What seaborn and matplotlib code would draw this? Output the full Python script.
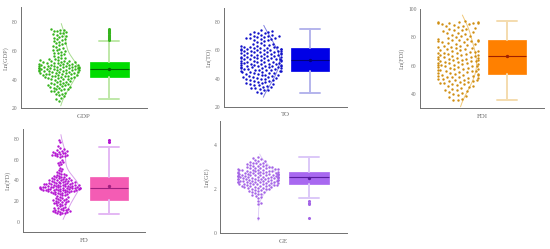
"""Five raincloud style panels: swarm + half density + box, one per indicator."""
import matplotlib
matplotlib.use("Agg")
import matplotlib.pyplot as plt
import numpy as np
import seaborn as sns

W, H = 550, 249

gdp = [25.4, 26.6, 27.3, 28.4, 29.1, 29.8, 30.2, 30.9, 31.3, 31.7, 32.2, 32.5, 33.1, 33.4, 33.6, 34.2, 34.4, 34.9,
       35.1, 35.3, 35.8, 36.0, 36.2, 36.7, 36.9, 37.1, 37.6, 37.8, 38.3, 38.6, 38.9, 39.2, 39.7, 40.1, 40.3, 40.4,
       40.8, 41.1, 41.2, 41.5, 41.6, 41.9, 42.2, 42.3, 42.6, 42.7, 43.0, 43.1, 43.3, 43.6, 43.7, 43.9, 44.1, 44.2,
       44.6, 44.7, 44.8, 45.0, 45.1, 45.4, 45.5, 45.7, 45.9, 46.0, 46.2, 46.3, 46.5, 46.6, 46.8, 46.9, 47.1, 47.2,
       47.3, 47.4, 47.6, 47.7, 47.9, 48.0, 48.1, 48.2, 48.3, 48.5, 48.6, 48.7, 48.8, 49.0, 49.1, 49.2, 49.4, 49.5,
       49.6, 49.8, 50.0, 50.1, 50.3, 50.4, 50.6, 50.9, 51.0, 51.2, 51.4, 51.5, 51.8, 52.0, 52.1, 52.3, 52.6, 52.9,
       53.1, 53.2, 53.6, 53.9, 54.3, 54.8, 55.2, 55.9, 56.5, 57.2, 57.8, 58.3, 58.7, 59.4, 59.9, 60.4, 60.8, 61.5,
       62.1, 62.6, 63.2, 63.7, 64.5, 65.0, 65.4, 66.1, 66.6, 67.3, 67.8, 68.2, 68.9, 69.5, 69.9, 70.4, 70.9, 71.5,
       72.0, 72.6, 73.0, 73.5, 73.9, 74.3, 74.7, 75.2]
to = [30.1, 30.8, 31.6, 32.0, 32.7, 33.1, 33.5, 34.0, 34.3, 34.9, 35.2, 35.6, 36.0, 36.2, 36.7, 37.1, 37.3, 37.8,
      38.1, 38.4, 38.8, 39.0, 39.5, 39.7, 40.0, 40.3, 40.5, 40.9, 41.1, 41.3, 41.8, 42.0, 42.3, 42.6, 42.9, 43.2,
      43.4, 43.7, 44.0, 44.1, 44.4, 44.7, 44.9, 45.1, 45.3, 45.6, 45.8, 46.0, 46.1, 46.4, 46.7, 46.8, 47.0, 47.3,
      47.4, 47.6, 47.9, 48.0, 48.2, 48.3, 48.6, 48.8, 49.0, 49.1, 49.3, 49.6, 49.7, 50.0, 50.1, 50.4, 50.6, 50.7,
      51.0, 51.2, 51.3, 51.6, 51.8, 52.0, 52.1, 52.3, 52.6, 52.7, 52.9, 53.1, 53.3, 53.6, 53.8, 54.0, 54.1, 54.3,
      54.6, 54.8, 55.0, 55.1, 55.4, 55.6, 55.7, 56.0, 56.2, 56.3, 56.6, 56.8, 57.0, 57.1, 57.4, 57.6, 57.7, 58.0,
      58.1, 58.3, 58.6, 58.7, 59.0, 59.1, 59.3, 59.5, 59.8, 59.9, 60.1, 60.3, 60.4, 60.6, 60.9, 61.0, 61.2, 61.3,
      61.6, 61.8, 62.0, 62.2, 62.3, 62.6, 62.8, 63.0, 63.3, 63.6, 63.9, 64.3, 64.8, 65.3, 66.0, 66.7, 67.2, 67.7,
      68.0, 68.3, 68.6, 68.9, 69.1, 69.4, 69.7, 70.0, 70.2, 70.5, 70.9, 71.3, 71.8, 72.2, 72.6, 73.0, 73.3, 73.9,
      74.5]
fdi = [35.6, 36.2, 36.9, 37.8, 38.6, 39.5, 40.1, 40.8, 41.3, 41.9, 42.6, 43.0, 43.8, 44.3, 44.9, 45.4, 45.7, 46.2,
       46.8, 47.1, 47.6, 47.9, 48.2, 48.7, 49.0, 49.3, 49.8, 50.0, 50.2, 50.7, 50.9, 51.2, 51.6, 51.8, 52.1, 52.4,
       52.6, 52.9, 53.3, 53.5, 53.8, 54.2, 54.4, 54.7, 55.1, 55.3, 55.6, 56.0, 56.2, 56.5, 56.9, 57.1, 57.4, 57.8,
       58.0, 58.3, 58.7, 58.9, 59.2, 59.5, 59.8, 60.0, 60.3, 60.6, 60.8, 61.1, 61.4, 61.6, 61.9, 62.2, 62.4, 62.7,
       63.0, 63.2, 63.5, 63.8, 64.0, 64.3, 64.6, 64.8, 65.1, 65.4, 65.6, 65.9, 66.2, 66.4, 66.7, 67.0, 67.3, 67.5,
       67.8, 68.1, 68.4, 68.7, 68.9, 69.2, 69.6, 69.9, 70.2, 70.5, 70.9, 71.2, 71.5, 71.9, 72.3, 72.6, 73.0, 73.4,
       73.8, 74.2, 74.7, 75.1, 75.6, 76.0, 76.4, 76.8, 77.1, 77.3, 77.6, 77.8, 78.0, 78.2, 78.5, 78.9, 79.6, 80.2,
       80.8, 81.3, 81.9, 82.4, 82.8, 83.3, 83.9, 84.4, 84.9, 85.3, 85.8, 86.2, 86.7, 87.4, 87.8, 88.3,
       88.8, 89.1, 89.5, 89.8, 90.0, 90.2, 90.4, 90.6, 90.8, 91.0, 91.2]
fd = [7.2, 7.9, 8.5, 8.8, 9.1, 9.4, 9.7, 10.0, 10.2, 10.5, 10.8,
      11.2, 11.6, 12.0, 12.3, 12.8, 13.3, 13.6, 14.1, 14.9, 15.6, 16.2, 16.8, 17.3, 17.7, 18.1,
      18.6, 19.0, 19.3, 19.7, 20.2, 20.5, 20.9, 21.3, 21.7, 22.0, 22.6, 23.1, 23.5, 24.2, 24.9, 25.4, 25.8, 26.3,
      26.7, 27.0, 27.4, 27.7, 28.0, 28.2, 28.5, 28.8, 29.0, 29.2, 29.4, 29.6, 29.8, 30.0, 30.1, 30.3, 30.4, 30.6,
      30.8, 30.9, 31.0, 31.2, 31.3, 31.5, 31.6, 31.8, 31.9, 32.0, 32.1, 32.2, 32.3, 32.5, 32.6, 32.7, 32.8, 33.0,
      33.1, 33.2, 33.4, 33.5, 33.6, 33.8, 33.9, 34.1, 34.2, 34.4, 34.6, 34.7, 34.9, 35.0, 35.2, 35.4, 35.5, 35.7,
      35.9, 36.1, 36.3, 36.4, 36.7, 36.9, 37.1, 37.3, 37.6, 37.8, 38.0, 38.2, 38.5, 38.7, 39.0, 39.2, 39.5, 39.8,
      40.0, 40.3, 40.6, 40.9, 41.1, 41.4, 41.7, 42.0, 42.3, 42.7, 43.0, 43.4, 43.9, 44.3, 44.8, 45.2, 45.7, 46.3,
      47.0, 47.8, 48.6, 49.5, 50.6, 52.0, 54.3, 55.6, 56.4, 57.2, 57.9, 59.6, 62.6, 63.0, 63.4, 63.7, 64.1, 64.4,
      64.8, 65.2, 65.5, 65.9, 66.3, 66.7, 67.1, 67.5, 68.0, 68.6, 69.3, 70.0, 71.2, 72.6, 77.0, 79.0]
ge = [0.70, 1.30, 1.35, 1.45, 1.59, 1.64, 1.68, 1.72, 1.76, 1.79, 1.83, 1.86, 1.88, 1.91, 1.93, 1.95, 1.97, 1.99,
      2.01, 2.02, 2.04, 2.05, 2.07, 2.08, 2.10, 2.11, 2.12, 2.13, 2.15, 2.16, 2.17, 2.18, 2.19, 2.20, 2.21, 2.22,
      2.23, 2.24, 2.25, 2.26, 2.27, 2.28, 2.29, 2.30, 2.31, 2.32, 2.33, 2.33, 2.34, 2.35, 2.36, 2.37, 2.38, 2.38,
      2.39, 2.40, 2.41, 2.42, 2.42, 2.43, 2.44, 2.45, 2.46, 2.46, 2.47, 2.48, 2.49, 2.50, 2.50, 2.51, 2.52, 2.53,
      2.53, 2.54, 2.55, 2.56, 2.56, 2.57, 2.58, 2.59, 2.60, 2.60, 2.61, 2.62, 2.63, 2.63, 2.64, 2.65, 2.66, 2.66,
      2.67, 2.68, 2.69, 2.70, 2.70, 2.71, 2.72, 2.73, 2.74, 2.74, 2.75, 2.76, 2.77, 2.78, 2.79, 2.80, 2.81, 2.82,
      2.83, 2.84, 2.85, 2.86, 2.87, 2.88, 2.89, 2.90, 2.91, 2.92, 2.94, 2.95, 2.96, 2.98, 2.99, 3.01, 3.02, 3.04,
      3.05, 3.07, 3.09, 3.11, 3.13, 3.15, 3.17, 3.19, 3.21, 3.24, 3.27, 3.30, 3.33, 3.36, 3.40, 3.45]

labels = ["GDP", "TO", "FDI", "FD", "GE"]
ylabels = ["Ln(GDP)", "Ln(TO)", "Ln(FDI)", "Ln(FD)", "Ln(GE)"]
series = [gdp, to, fdi, fd, ge]
q1 = [41.5, 45.5, 54.0, 21.0, 2.24]
med = [47.3, 53.0, 66.6, 32.6, 2.57]
q3 = [52.0, 61.7, 78.0, 43.3, 2.77]
mean = [47.5, 53.3, 66.6, 34.0, 2.50]
whislo = [26.5, 29.6, 35.6, 7.0, 1.59]
whishi = [66.4, 75.3, 91.3, 71.7, 3.45]
fliers = [[67.3, 68.2, 69.0, 69.8, 70.4, 71.2, 72.0, 72.6, 73.2, 73.8, 74.5, 75.2], [], [], [77.0, 79.0],
          [0.70, 1.30, 1.35, 1.45]]
yticks = [[20, 40, 60, 80], [20, 40, 60, 80], [40, 60, 80, 100], [0, 20, 40, 60, 80], [0, 2, 4]]
ylims = [(20, 90), (20, 90), (30, 100), (-10, 89.5), (0, 5.1)]

# pixel boxes of the axes: left, right, top, bottom
boxes = [(21, 146.5, 7.5, 108.3), (224, 346.7, 8.3, 106.7), (420.3, 544, 9, 108.3),
         (23.3, 145, 129, 232), (219.7, 346.7, 121, 233)]
swarm_px = [59, 261, 458, 60, 258]
box_px = [109, 310, 507, 109, 309]
# layout size for the swarm is bigger than the drawn dot, the original is not tightly packed
swarm_size = [2.3, 2.7, 3.3, 1.8, 2.2]
dot_col = ["#35b31c", "#1010c8", "#d08e12", "#b414d2", "#a464e6"]
box_col = ["#00dc00", "#0000e6", "#ff8000", "#f45cb4", "#a868f0"]
med_col = ["#006400", "#00007a", "#a02000", "#a02080", "#5a1ea0"]
whisk_col = ["#bfe8a8", "#b4b4ec", "#f4dcae", "#e4b8f4", "#dcc8f8"]
curve_col = ["#a8dc90", "#8080e0", "#f0c878", "#d8a0ec", "#e0d0f8"]

sns.set_theme(style="white")
plt.rcParams["font.family"] = ["Liberation Serif", "DejaVu Serif"]
GREY = "#707070"

fig = plt.figure(figsize=(W / 100, H / 100), dpi=100)


def panel(i):
    l, r, t, b = boxes[i]
    ax = fig.add_axes([l / W, 1 - b / H, (r - l) / W, (b - t) / H])
    vals = np.array(series[i])
    unit = box_px[i] - swarm_px[i]
    sns.swarmplot(x=np.zeros(len(vals)), y=vals, ax=ax, native_scale=True, orient="x",
                  color=dot_col[i], size=swarm_size[i], linewidth=0, warn_thresh=1)
    dots = ax.collections[-1]
    sns.kdeplot(y=vals, ax=ax, color=curve_col[i], lw=0.7, bw_adjust=1.4, cut=0.6)
    line = ax.lines[-1]
    dens = line.get_xdata()
    line.set_xdata(dens / dens.max() * 0.38)
    stats = [dict(med=med[i], q1=q1[i], q3=q3[i], whislo=whislo[i], whishi=whishi[i],
                  mean=mean[i], fliers=fliers[i])]
    ax.bxp(stats, positions=[1], widths=0.78, patch_artist=True, showmeans=True, capwidths=0.4,
           boxprops=dict(facecolor=box_col[i], edgecolor=box_col[i], lw=0.5),
           medianprops=dict(color=med_col[i], lw=0.8),
           whiskerprops=dict(color=whisk_col[i], lw=1.4),
           capprops=dict(color=whisk_col[i], lw=1.4),
           meanprops=dict(marker="o", ms=1.4, mfc=med_col[i], mec=med_col[i]),
           flierprops=dict(marker="o", ms=1.2, mfc=dot_col[i], mec=dot_col[i]))
    ax.set_xlim((l - swarm_px[i]) / unit, (r - swarm_px[i]) / unit)
    ax.set_ylim(*ylims[i])
    ax.set_xticks([0.5], [labels[i]])
    ax.set_yticks(yticks[i])
    ax.set_xlabel("")
    ax.set_ylabel(ylabels[i], fontsize=4.5, color=GREY, labelpad=2.5)
    ax.tick_params(length=1.5, width=0.5, labelsize=4, color=GREY, labelcolor=GREY, pad=1)
    ax.tick_params(axis="x", labelsize=5, pad=2.5)
    sns.despine(ax=ax)
    for s in ("left", "bottom"):
        ax.spines[s].set_color(GREY)
        ax.spines[s].set_linewidth(0.7)
    ax.patch.set_alpha(0)
    return dots


swarms = [panel(i) for i in range(len(series))]

# seaborn lays the swarm out at draw time from the marker size, so freeze it, then shrink the dots
fig.canvas.draw()
for dots in swarms:
    del dots.draw
    dots.set_sizes([3.0])

fig.savefig("out.png", dpi=100)
